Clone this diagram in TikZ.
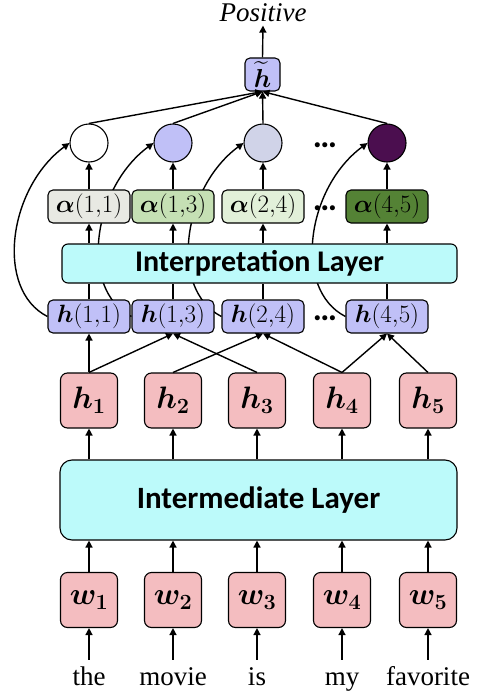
\RequirePackage{fix-cm}
\documentclass[tikz,border=0pt]{standalone}
\usepackage{amsmath}
\usepackage{fontspec}
\setmainfont{Liberation Serif}
\newfontfamily\layerfont{Carlito}
\usepackage{bm}
\usetikzlibrary{positioning, calc, arrows.meta, backgrounds}
\definecolor{tokpink}{HTML}{F4BDC0}
\definecolor{spanblue}{HTML}{C0C0F7}
\definecolor{layercyan}{HTML}{BCFAFA}
\definecolor{agrey}{HTML}{E8E9E3}
\definecolor{agreen}{HTML}{C5E0B4}
\definecolor{alight}{HTML}{E2F0D9}
\definecolor{adark}{HTML}{548235}
\definecolor{cgrey}{HTML}{D0D3E8}
\definecolor{cdark}{HTML}{4B0E4F}
\tikzset{tokbox/.style={draw, line width=1.1pt, rounded corners=7pt, fill=tokpink, minimum width=57pt, minimum height=55pt, inner sep=0pt, font=\fontsize{31}{33}\selectfont}}
\tikzset{spanbox/.style={draw, line width=1.1pt, rounded corners=5pt, minimum width=82pt, minimum height=33pt, inner sep=0pt, font=\fontsize{25}{27}\selectfont}}
\tikzset{layerbox/.style={draw, line width=1.1pt, fill=layercyan, inner sep=0pt, font=\layerfont\bfseries\fontsize{30}{32}\selectfont}}
\tikzset{weightdot/.style={draw, circle, line width=1.1pt, minimum size=38pt, inner sep=0pt}}
\tikzset{moredots/.style={inner sep=0pt, font=\layerfont\bfseries\fontsize{34}{34}\selectfont}}
\tikzset{conn/.style={line width=1.4pt, -{Triangle[length=7pt, width=7pt]}}}
\tikzset{plain/.style={line width=1.4pt}}

\begin{document}
\begin{tikzpicture}[x=1pt, y=1pt]
  \useasboundingbox (0,0) rectangle (480,-693);

  % intermediate layer, tokens and words
  \node[layerbox, rounded corners=12pt, minimum width=397pt, minimum height=80pt, font=\layerfont\bfseries\fontsize{31}{33}\selectfont] (mid) at (258.5,-500) {Intermediate Layer};
  \foreach \i/\x/\word in {1/89/the, 2/173/movie, 3/257/is, 4/342/my, 5/428/favorite} {
    \node[tokbox] (w\i) at (\x,-600) {$\bm{w}_{\bm{\i}}$};
    \node[tokbox] (h\i) at (\x,-400.5) {$\bm{h}_{\bm{\i}}$};
    \node[anchor=base, text height=19pt, inner sep=6pt, font=\fontsize{27}{30}\selectfont] (word\i) at (\x,-685) {\word};
    \draw[conn] (word\i) -- (w\i);
    \draw[conn] (w\i.north) -- (w\i.north |- mid.south);
    \draw[conn] (mid.north -| h\i.south) -- (h\i.south);
  }

  % spans
  \node[spanbox, fill=spanblue] (s11) at (89,-316.5) {$\bm{h}(1{,}1)$};
  \node[spanbox, fill=spanblue] (s13) at (173,-316.5) {$\bm{h}(1{,}3)$};
  \node[spanbox, fill=spanblue] (s24) at (263,-316.5) {$\bm{h}(2{,}4)$};
  \node[spanbox, fill=spanblue] (s45) at (387,-316.5) {$\bm{h}(4{,}5)$};
  \node[moredots] (dots1) at (325,-318) {\dots};

  \draw[conn] (h1.north) -- (s11.south);
  \draw[conn] (h1.north) -- (s13.south);
  \draw[conn] (h3.north) -- (s13.south);
  \draw[conn] (h2.north) -- (s24.south);
  \draw[conn] (h4.north) -- (s24.south);
  \draw[conn] (h4.north) -- (s45.south);
  \draw[conn] (h5.north) -- (s45.south);

  % interpretation layer and weights
  \node[layerbox, rounded corners=6pt, minimum width=395pt, minimum height=39pt] (interp) at (259.5,-263.5) {Interpretation Layer};

  \node[spanbox, fill=agrey] (a11) at (89,-206.5) {$\bm{\alpha}(1{,}1)$};
  \node[spanbox, fill=agreen] (a13) at (173,-206.5) {$\bm{\alpha}(1{,}3)$};
  \node[spanbox, fill=alight] (a24) at (263,-206.5) {$\bm{\alpha}(2{,}4)$};
  \node[spanbox, fill=adark] (a45) at (387,-206.5) {$\bm{\alpha}(4{,}5)$};
  \node[moredots] (dots2) at (325,-208) {\dots};

  \draw[plain] (s11.north) -- (s11.north |- interp.south);
  \draw[plain] (s13.north) -- (s13.north |- interp.south);
  \draw[plain] (s24.north) -- (s24.north |- interp.south);
  \draw[plain] (s45.north) -- (s45.north |- interp.south);
  \draw[conn] (interp.north -| a11.south) -- (a11.south);
  \draw[conn] (interp.north -| a13.south) -- (a13.south);
  \draw[conn] (interp.north -| a24.south) -- (a24.south);
  \draw[conn] (interp.north -| a45.south) -- (a45.south);

  % weighted spans
  \node[weightdot, fill=white] (c1) at (89,-143) {};
  \node[weightdot, fill=spanblue] (c2) at (173,-143) {};
  \node[weightdot, fill=cgrey] (c3) at (263,-143) {};
  \node[weightdot, fill=cdark] (c4) at (387,-143) {};
  \node[moredots] (dots3) at (325,-145) {\dots};

  \draw[conn] (a11.north) -- (c1.south);
  \draw[conn] (a13.north) -- (c2.south);
  \draw[conn] (a24.north) -- (c3.south);
  \draw[conn] (a45.north) -- (c4.south);

  \begin{scope}[on background layer]
    \draw[conn] (s11.west) .. controls ($(s11.west)+(-53,27)$) and ($(c1.west)+(-61,-45)$) .. (c1.west);
    \draw[conn] (s13.west) .. controls ($(s13.west)+(-53,27)$) and ($(c2.west)+(-61,-45)$) .. (c2.west);
    \draw[conn] (s24.west) .. controls ($(s24.west)+(-53,27)$) and ($(c3.west)+(-61,-45)$) .. (c3.west);
    \draw[conn] (s45.west) .. controls ($(s45.west)+(-53,27)$) and ($(c4.west)+(-61,-45)$) .. (c4.west);
  \end{scope}

  % sentence vector and output
  \node[spanbox, fill=spanblue, minimum width=35pt, minimum height=33pt, font=\fontsize{26}{28}\selectfont] (hsum) at (262.5,-74.5) {$\bm{\widetilde{h}}$};
  \node[font=\itshape\fontsize{27}{30}\selectfont] (pos) at (263,-13) {Positive};

  \draw[conn] (c1.north) -- (hsum.south);
  \draw[conn] (c2.north) -- (hsum.south);
  \draw[conn] (c3.north) -- (hsum.south);
  \draw[conn] (c4.north) -- (hsum.south);
  \draw[conn] (hsum.north) -- (pos.south);
\end{tikzpicture}
\end{document}
